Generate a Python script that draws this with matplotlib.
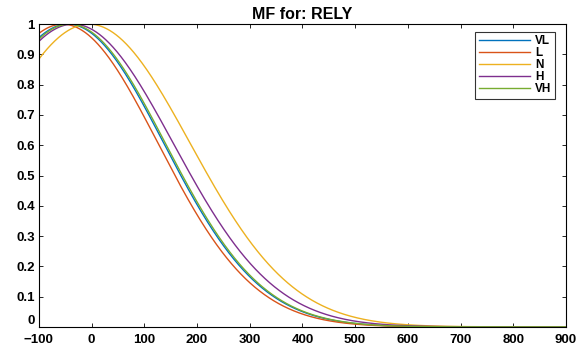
import numpy as np
import matplotlib
matplotlib.use('Agg')
import matplotlib.pyplot as plt

# membership function parameters (gaussmf: center, sigma)
labels = ['VL', 'L', 'N', 'H', 'VH']
centers = [-45, -55, -5, -35, -42]
sigmas = [182, 181, 192, 190, 182]
colors = ['#0072BD', '#D95319', '#EDB120', '#7E2F8E', '#77AC30']

x_ticks = [-100, 0, 100, 200, 300, 400, 500, 600, 700, 800, 900]
y_ticks = [0, 0.1, 0.2, 0.3, 0.4, 0.5, 0.6, 0.7, 0.8, 0.9, 1]
y_ticklabels = ['0', '0.1', '0.2', '0.3', '0.4', '0.5', '0.6', '0.7', '0.8', '0.9', '1']

plt.rcParams['font.family'] = ['Liberation Sans', 'DejaVu Sans']
plt.rcParams['font.weight'] = 'bold'

fig = plt.figure(figsize=(5.81, 3.5), dpi=100)
ax = fig.add_axes([0.067, 0.066, 0.907, 0.865])

x = np.linspace(-100, 900, 1001)
for lab, c, s, col in zip(labels, centers, sigmas, colors):
    y = np.exp(-(x - c) ** 2 / (2.0 * s ** 2))
    ax.plot(x, y, color=col, lw=1.0, label=lab)

ax.set_xlim(-100, 900)
ax.set_ylim(0, 1)
ax.set_xticks(x_ticks)
ax.set_yticks(y_ticks)
ax.set_yticklabels(y_ticklabels)
ax.tick_params(direction='in', top=True, right=True, labelsize=9.5, length=3, width=0.6)
ax.tick_params(axis='x', pad=5)
ax.tick_params(axis='y', pad=3)
# nudge the bottom "0" up a little so it does not run into "-100"
ax.get_yticklabels()[0].set_va('bottom')
for sp in ax.spines.values():
    sp.set_linewidth(0.8)
ax.set_title('MF for: RELY', fontsize=11.5, fontweight='bold', pad=4)

leg = ax.legend(loc='upper right', bbox_to_anchor=(0.979, 0.975), fontsize=8.5,
                fancybox=False, edgecolor='black', handlelength=4.3,
                handletextpad=0.45, labelspacing=0.0, borderpad=0.3, borderaxespad=0.0)
leg.get_frame().set_linewidth(0.8)
for t in leg.get_texts():
    t.set_fontweight('bold')

fig.savefig('out.png', dpi=100)
